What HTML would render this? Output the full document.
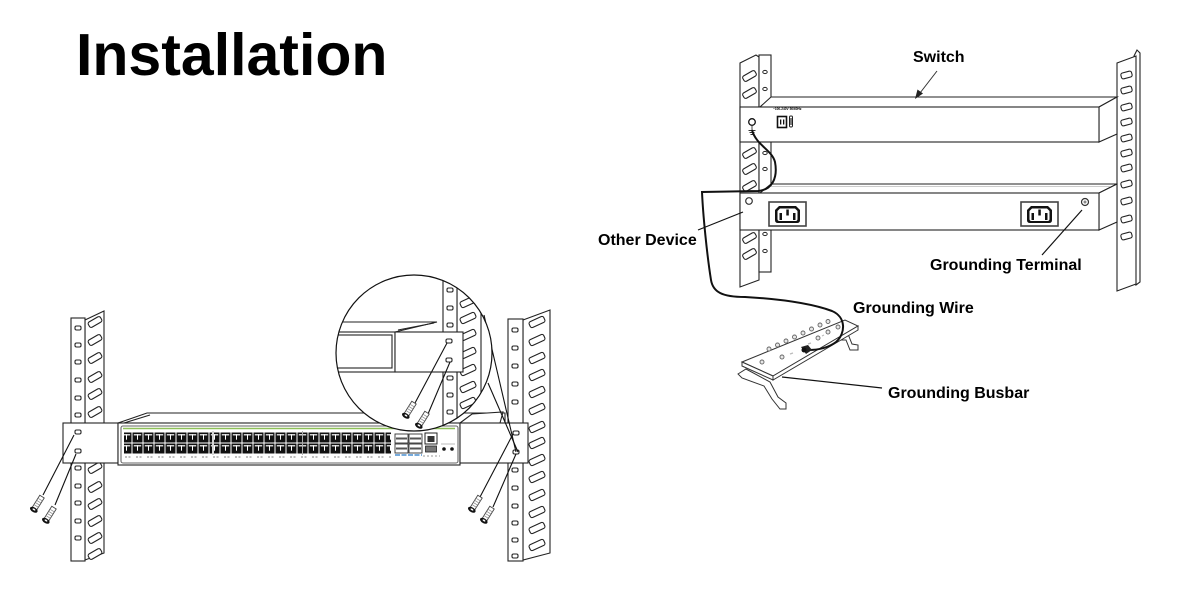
<!DOCTYPE html>
<html><head><meta charset="utf-8"><style>
html,body{margin:0;padding:0;background:#fff;width:1200px;height:600px;overflow:hidden}
svg{display:block}
text{font-family:"Liberation Sans",Arial,sans-serif;font-weight:bold;fill:#000}
</style></head><body>
<svg width="1200" height="600" viewBox="0 0 1200 600" xmlns="http://www.w3.org/2000/svg">
<defs>
  <pattern id="port" patternUnits="userSpaceOnUse" x="0" y="432" width="11" height="11">
    <rect x="0.5" y="0.5" width="10" height="10" fill="#111"/>
    <rect x="1.8" y="2.2" width="7.4" height="1.2" fill="#fff"/>
    <rect x="5" y="2.2" width="1" height="5.5" fill="#fff"/>
  </pattern>
  <g id="slotL"><rect x="-7" y="-3" width="14" height="6" rx="2" fill="#fff" stroke="#222" stroke-width="1.1" transform="rotate(-30)"/></g>
  <g id="slotR"><rect x="-8" y="-3.2" width="16" height="6.4" rx="2" fill="#fff" stroke="#222" stroke-width="1.1" transform="rotate(-25)"/></g>
  <g id="hole"><rect x="-3" y="-2" width="6" height="4" rx="1.5" fill="#fff" stroke="#222" stroke-width="1.1"/></g>
  <g id="screw">
    <rect x="3" y="-2.6" width="14" height="5.2" fill="#fff" stroke="#444" stroke-width="0.9"/>
    <path d="M6,-2.6V2.6M8.5,-2.6V2.6M11,-2.6V2.6M13.5,-2.6V2.6" stroke="#888" stroke-width="0.7"/>
    <ellipse cx="1.5" cy="0" rx="2.4" ry="4.2" fill="#111"/>
    <ellipse cx="1.8" cy="0" rx="0.8" ry="1.6" fill="#fff"/>
  </g>
  <g id="iec">
    <rect x="0" y="0" width="37" height="24" fill="#fff" stroke="#444" stroke-width="1.6"/>
    <path d="M10,4 H27 L31,8 V18 Q31,21 28,21 H9 Q6,21 6,18 V8 Z" fill="#111"/>
    <path d="M11,6.5 H26 L28.5,9 V17 Q28.5,19 26.5,19 H10.5 Q8.5,19 8.5,17 V9 Z" fill="#fff"/>
    <rect x="10.5" y="11" width="2.5" height="7" fill="#111"/>
    <rect x="24" y="11" width="2.5" height="7" fill="#111"/>
    <rect x="17.3" y="7.5" width="2.5" height="6" fill="#111"/>
  </g>
  <clipPath id="mag"><circle cx="414" cy="353" r="78"/></clipPath>
</defs>

<!-- Title -->
<text x="76" y="75" font-size="59">Installation</text>

<!-- ================= LEFT DIAGRAM ================= -->
<g stroke="#222" stroke-width="1.1" fill="#fff">
  <!-- left post -->
  <polygon points="85,320 104,311 104,553 85,560"/>
  <rect x="71" y="318" width="14" height="243"/>
  <!-- right post -->
  <polygon points="523,320 550,310 550,553 523,560"/>
  <rect x="508" y="319" width="15" height="242"/>
</g>
<g>
  <use href="#slotL" x="95" y="322"/><use href="#slotL" x="95" y="340"/><use href="#slotL" x="95" y="358"/>
  <use href="#slotL" x="95" y="377"/><use href="#slotL" x="95" y="394"/><use href="#slotL" x="95" y="412"/>
  <use href="#slotL" x="95" y="468"/><use href="#slotL" x="95" y="487"/><use href="#slotL" x="95" y="504"/>
  <use href="#slotL" x="95" y="521"/><use href="#slotL" x="95" y="538"/><use href="#slotL" x="95" y="554"/>
  <use href="#hole" x="78" y="328"/><use href="#hole" x="78" y="345"/><use href="#hole" x="78" y="362"/>
  <use href="#hole" x="78" y="380"/><use href="#hole" x="78" y="398"/><use href="#hole" x="78" y="415"/>
  <use href="#hole" x="78" y="468"/><use href="#hole" x="78" y="486"/><use href="#hole" x="78" y="503"/>
  <use href="#hole" x="78" y="521"/><use href="#hole" x="78" y="538"/>

  <use href="#slotR" x="537" y="322"/><use href="#slotR" x="537" y="340"/><use href="#slotR" x="537" y="358"/>
  <use href="#slotR" x="537" y="375"/><use href="#slotR" x="537" y="392"/><use href="#slotR" x="537" y="409"/>
  <use href="#slotR" x="537" y="427"/><use href="#slotR" x="537" y="443"/><use href="#slotR" x="537" y="460"/>
  <use href="#slotR" x="537" y="477"/><use href="#slotR" x="537" y="495"/><use href="#slotR" x="537" y="512"/>
  <use href="#slotR" x="537" y="528"/><use href="#slotR" x="537" y="545"/>
  <use href="#hole" x="515" y="330"/><use href="#hole" x="515" y="348"/><use href="#hole" x="515" y="366"/>
  <use href="#hole" x="515" y="384"/><use href="#hole" x="515" y="402"/>
  <use href="#hole" x="515" y="470"/><use href="#hole" x="515" y="488"/><use href="#hole" x="515" y="506"/>
  <use href="#hole" x="515" y="523"/><use href="#hole" x="515" y="540"/><use href="#hole" x="515" y="556"/>
</g>

<!-- switch body -->
<g stroke="#222" stroke-width="1.1" fill="#fff">
  <polygon points="118,423 147,413 505,413 505,423"/>
  <line x1="124" y1="423" x2="150" y2="415"/>
  <polygon points="460,423 472,414 503,412 500,423"/>
  <rect x="63" y="423" width="55" height="40"/>
  <rect x="118" y="423" width="342" height="42"/>
  <rect x="121" y="426" width="337" height="37" rx="2" stroke="#666"/>
  <rect x="460" y="423" width="68" height="40"/>
</g>
<line x1="123" y1="428.5" x2="455" y2="428.5" stroke="#8fc15a" stroke-width="1.6"/>
<rect x="124" y="432" width="88" height="22" fill="url(#port)"/>
<rect x="214" y="432" width="88" height="22" fill="url(#port)"/>
<rect x="303" y="432" width="88" height="22" fill="url(#port)"/>
<line x1="213" y1="431" x2="213" y2="455" stroke="#999" stroke-width="0.8"/>
<line x1="302.5" y1="431" x2="302.5" y2="455" stroke="#999" stroke-width="0.8"/>
<line x1="125" y1="457" x2="391" y2="457" stroke="#999" stroke-width="1.2" stroke-dasharray="2 1.5 2 5.5"/>
<!-- SFP -->
<g stroke="#333" stroke-width="0.9" fill="#fff">
  <rect x="395" y="434" width="13" height="9"/><rect x="409" y="434" width="13" height="9"/>
  <rect x="395" y="444" width="13" height="9"/><rect x="409" y="444" width="13" height="9"/>
</g>
<g fill="#555">
  <rect x="396" y="437.5" width="11" height="2"/><rect x="410" y="437.5" width="11" height="2"/>
  <rect x="396" y="447.5" width="11" height="2"/><rect x="410" y="447.5" width="11" height="2"/>
</g>
<line x1="395" y1="455" x2="422" y2="455" stroke="#4a8fd0" stroke-width="1.4" stroke-dasharray="5 1.5"/>
<rect x="425" y="433" width="12" height="11" fill="#fff" stroke="#222" stroke-width="1"/>
<rect x="427.5" y="436" width="7" height="6" fill="#333"/>
<rect x="425.5" y="446" width="11" height="6" fill="#777" stroke="#222" stroke-width="0.8"/>
<circle cx="444" cy="449" r="1.8" fill="#111"/><circle cx="452" cy="449" r="1.8" fill="#111"/>
<line x1="441" y1="444" x2="455" y2="444" stroke="#aaa" stroke-width="0.8"/>
<line x1="423" y1="456" x2="440" y2="456" stroke="#999" stroke-width="1" stroke-dasharray="2 2"/>
<!-- ear holes -->
<use href="#hole" x="78" y="432"/><use href="#hole" x="78" y="451"/>
<use href="#hole" x="516" y="433"/><use href="#hole" x="516" y="452"/>

<!-- left screws -->
<g stroke="#111" stroke-width="1.1">
  <line x1="43" y1="495" x2="74" y2="435"/>
  <line x1="55" y1="505" x2="76" y2="454"/>
  <line x1="480" y1="497" x2="513" y2="434"/>
  <line x1="493" y1="507" x2="516" y2="454"/>
</g>
<use href="#screw" transform="translate(33,511) rotate(-58)"/>
<use href="#screw" transform="translate(45,522) rotate(-58)"/>
<use href="#screw" transform="translate(471,511) rotate(-58)"/>
<use href="#screw" transform="translate(483,522) rotate(-58)"/>

<!-- magnifier -->
<g stroke="#111" stroke-width="1.1">
  <line x1="484" y1="315" x2="516" y2="452"/>
  <line x1="488" y1="383" x2="518" y2="452"/>
</g>
<circle cx="414" cy="353" r="78" fill="#fff"/>
<g clip-path="url(#mag)" stroke="#222" stroke-width="1.1" fill="#fff">
  <rect x="457" y="260" width="24" height="200"/>
  <rect x="443" y="260" width="14" height="200"/>
  <line x1="481" y1="280" x2="500" y2="270"/>
  <g stroke="none">
    <use href="#slotR" x="468" y="302"/><use href="#slotR" x="468" y="318"/><use href="#slotR" x="468" y="335"/>
    <use href="#slotR" x="468" y="353"/><use href="#slotR" x="468" y="370"/><use href="#slotR" x="468" y="387"/>
    <use href="#slotR" x="468" y="403"/><use href="#slotR" x="468" y="420"/>
    <use href="#hole" x="450" y="290"/><use href="#hole" x="450" y="308"/><use href="#hole" x="450" y="325"/>
    <use href="#hole" x="450" y="378"/><use href="#hole" x="450" y="395"/><use href="#hole" x="450" y="412"/>
  </g>
  <polygon points="330,322 437,322 395,332 330,332"/>
  <line x1="398" y1="330" x2="434" y2="323"/>
  <rect x="325" y="332" width="70" height="40"/>
  <rect x="325" y="335" width="67" height="33"/>
  <rect x="395" y="332" width="68" height="40"/>
  <g stroke="none"><use href="#hole" x="449" y="341"/><use href="#hole" x="449" y="360"/></g>
  <line x1="415" y1="403" x2="447" y2="343" stroke="#111"/>
  <line x1="428" y1="414" x2="450" y2="362" stroke="#111"/>
</g>
<g clip-path="url(#mag)">
  <use href="#screw" transform="translate(405,417) rotate(-58)"/>
  <use href="#screw" transform="translate(418,427) rotate(-58)"/>
</g>
<circle cx="414" cy="353" r="78" fill="none" stroke="#111" stroke-width="1.2"/>

<!-- ================= RIGHT DIAGRAM ================= -->
<g stroke="#222" stroke-width="1.1" fill="#fff">
  <!-- left post -->
  <polygon points="740,63 756,55 759,57 759,280 740,287"/>
  <rect x="759" y="55" width="12" height="217"/>
  <!-- right post -->
  <polygon points="1134,56 1137,50 1140,53 1140,282 1136,285"/>
  <polygon points="1117,63 1136,56 1136,284 1117,291"/>
</g>
<g>
  <g transform="translate(0,0)">
    <use href="#slotL" x="749.5" y="76"/><use href="#slotL" x="749.5" y="93"/>
    <use href="#slotL" x="749.5" y="153"/><use href="#slotL" x="749.5" y="169"/><use href="#slotL" x="749.5" y="186"/>
    <use href="#slotL" x="749.5" y="238"/><use href="#slotL" x="749.5" y="254"/>
  </g>
  <g>
    <ellipse cx="765" cy="72" rx="2.2" ry="1.6" fill="#fff" stroke="#222"/>
    <ellipse cx="765" cy="89" rx="2.2" ry="1.6" fill="#fff" stroke="#222"/>
    <ellipse cx="765" cy="153" rx="2.2" ry="1.6" fill="#fff" stroke="#222"/>
    <ellipse cx="765" cy="169" rx="2.2" ry="1.6" fill="#fff" stroke="#222"/>
    <ellipse cx="765" cy="234" rx="2.2" ry="1.6" fill="#fff" stroke="#222"/>
    <ellipse cx="765" cy="251" rx="2.2" ry="1.6" fill="#fff" stroke="#222"/>
  </g>
  <g fill="#fff" stroke="#222" stroke-width="1.1">
    <rect x="1121" y="72" width="11" height="6" rx="2" transform="rotate(-15 1126.5 75)"/>
    <rect x="1121" y="87" width="11" height="6" rx="2" transform="rotate(-15 1126.5 90)"/>
    <rect x="1121" y="104" width="11" height="6" rx="2" transform="rotate(-15 1126.5 107)"/>
    <rect x="1121" y="119" width="11" height="6" rx="2" transform="rotate(-15 1126.5 122)"/>
    <rect x="1121" y="135" width="11" height="6" rx="2" transform="rotate(-15 1126.5 138)"/>
    <rect x="1121" y="150" width="11" height="6" rx="2" transform="rotate(-15 1126.5 153)"/>
    <rect x="1121" y="165" width="11" height="6" rx="2" transform="rotate(-15 1126.5 168)"/>
    <rect x="1121" y="181" width="11" height="6" rx="2" transform="rotate(-15 1126.5 184)"/>
    <rect x="1121" y="198" width="11" height="6" rx="2" transform="rotate(-15 1126.5 201)"/>
    <rect x="1121" y="216" width="11" height="6" rx="2" transform="rotate(-15 1126.5 219)"/>
    <rect x="1121" y="233" width="11" height="6" rx="2" transform="rotate(-15 1126.5 236)"/>
  </g>
</g>

<!-- Switch box -->
<g stroke="#222" stroke-width="1.1" fill="#fff">
  <polygon points="771,97 1117,97 1099,107 760,107"/>
  <polygon points="1099,107 1117,97 1117,134 1099,142"/>
  <rect x="740" y="107" width="359" height="35"/>
</g>
<circle cx="752" cy="122" r="3.3" fill="#fff" stroke="#111" stroke-width="1.3"/>
<path d="M752,126V130M748.5,130.5H755.5M749.5,132.5H754.5M750.5,134.5H753.5" stroke="#333" stroke-width="0.9"/>
<text x="773" y="110" font-size="3.2" font-weight="normal" fill="#333">~100-240V 50/60Hz</text>
<rect x="777.5" y="116.5" width="9" height="11" fill="#fff" stroke="#111" stroke-width="1.6"/>
<rect x="780" y="119.5" width="1.3" height="5" fill="#111"/><rect x="783" y="119.5" width="1.3" height="5" fill="#111"/>
<rect x="789.5" y="116" width="3" height="11" rx="1.2" fill="#fff" stroke="#222" stroke-width="1"/>
<rect x="790.3" y="118" width="1.4" height="7" fill="#444"/>

<!-- Other device box -->
<g stroke="#222" stroke-width="1.1" fill="#fff">
  <polygon points="771,184 1117,184 1099,193 760,193"/>
  <polygon points="1099,193 1117,184 1117,222 1099,230"/>
  <rect x="740" y="193" width="359" height="37"/>
</g>
<line x1="771" y1="186.5" x2="1110" y2="186.5" stroke="#999" stroke-width="0.6"/>
<circle cx="749" cy="201" r="3.3" fill="#fff" stroke="#333" stroke-width="1.2"/>
<circle cx="1085" cy="202" r="3.5" fill="#fff" stroke="#333" stroke-width="1.2"/>
<circle cx="1085" cy="202" r="1.5" fill="#888"/>
<use href="#iec" x="769" y="202"/>
<use href="#iec" x="1021" y="202"/>

<!-- Busbar -->
<g stroke="#333" stroke-width="1" fill="#fff">
  <path d="M838,334 L848,334 L852,344 L858,345 L858,350 L850,350 L846,340 L840,340 Z"/>
  <path d="M738,374 L746,369 L770,382 L778,397 L786,403 L786,409 L780,409 L772,399 L764,386 L742,378 Z"/>
  <polygon points="742,362 845,320 858,326 773,376"/>
  <polygon points="742,362 773,376 773,380 742,366"/>
  <polygon points="773,376 858,326 858,330 773,380"/>
</g>
<g fill="#e8e8e8" stroke="#666" stroke-width="0.9">
  <circle cx="769" cy="349" r="2"/><circle cx="777.5" cy="345" r="2"/><circle cx="786" cy="341" r="2"/>
  <circle cx="794.5" cy="337" r="2"/><circle cx="803" cy="333" r="2"/><circle cx="811.5" cy="329" r="2"/>
  <circle cx="820" cy="325" r="2"/><circle cx="828" cy="321.5" r="2"/>
  <circle cx="762" cy="362" r="2"/><circle cx="782" cy="357" r="2"/><circle cx="818" cy="338" r="2"/>
  <circle cx="828" cy="332" r="2"/><circle cx="838" cy="327" r="2"/>
</g>
<g stroke="#bbb" stroke-width="1.2">
  <line x1="790" y1="354" x2="793" y2="353"/><line x1="808" y1="344" x2="811" y2="343"/><line x1="822" y1="336" x2="824" y2="335"/>
</g>

<!-- Grounding wire -->
<path d="M752,130 C756,145 772,150 775,162 C778,178 772,190 758,191 L702,192 C703,215 707,255 711,280 C713,292 722,297 745,297 C780,299 810,303 832,311 C846,317 846,333 836,342 C828,348 818,350 808,350"
      fill="none" stroke="#111" stroke-width="2"/>
<path d="M801,347 L808,345 L812,350 L806,354 Z" fill="#222"/>
<circle cx="804" cy="350" r="2.5" fill="#111"/>

<!-- Labels & leaders -->
<text x="913" y="62" font-size="16">Switch</text>
<line x1="937" y1="71" x2="920" y2="93" stroke="#333" stroke-width="1"/>
<polygon points="915,99 917.5,89.5 923,93.5" fill="#222"/>

<text x="598" y="245" font-size="16">Other Device</text>
<line x1="698" y1="230" x2="743" y2="212" stroke="#111" stroke-width="1.2"/>

<text x="930" y="270" font-size="16">Grounding Terminal</text>
<line x1="1042" y1="255" x2="1082" y2="210" stroke="#111" stroke-width="1.2"/>

<text x="853" y="313" font-size="16">Grounding Wire</text>

<text x="888" y="398" font-size="16">Grounding Busbar</text>
<line x1="782" y1="377" x2="882" y2="388" stroke="#111" stroke-width="1.2"/>
</svg>
</body></html>
